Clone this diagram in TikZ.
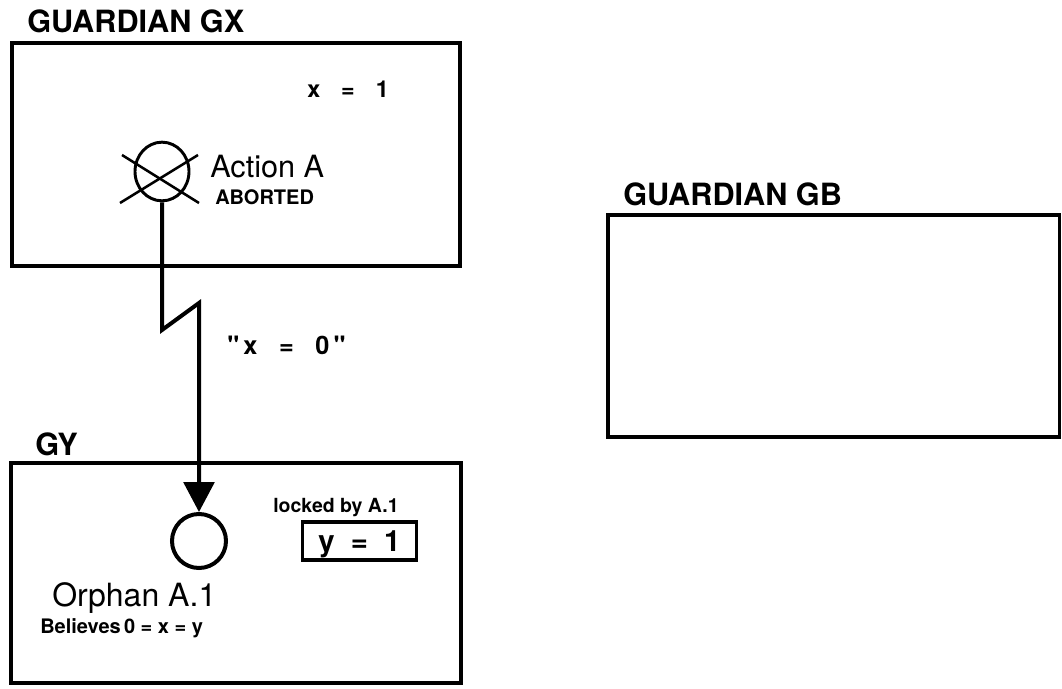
\documentclass[tikz,border=0pt]{standalone}
\usepackage{fontspec}
\setmainfont{TeX Gyre Heros}[Ligatures=TeXOff]
\usetikzlibrary{arrows.meta}
\usetikzlibrary{positioning}
\usetikzlibrary{shapes.geometric}
\tikzstyle{guardbox} = [draw, line width=2.6pt, inner sep=0pt]
\tikzstyle{boxtitle} = [anchor=base west, inner sep=0pt, font=\fontsize{23pt}{23pt}\selectfont\bfseries]
\tikzstyle{plainlabel} = [anchor=base west, inner sep=0pt]
\tikzstyle{msgline} = [line width=3pt, line join=miter]
\tikzstyle{crossline} = [line width=1.9pt]

\begin{document}
\begin{tikzpicture}[x=0.75pt, y=-0.75pt]
\useasboundingbox (0,0) rectangle (1062,688);
% guardians
\node[guardbox, minimum width=336pt, minimum height=167.25pt] (gx) at (236,154.5) {};
\node[guardbox, minimum width=338.6pt, minimum height=166.5pt] (gb) at (833.75,326) {};
\node[guardbox, minimum width=337.5pt, minimum height=165pt] (gy) at (236,573) {};
\node[boxtitle] (gxtitle) at (27,33) {GUARDIAN GX};
\node[boxtitle] (gbtitle) at (623,205) {GUARDIAN GB};
\node[boxtitle] (gytitle) at (35,455) {GY};
% inside GX
\node[plainlabel, font=\fontsize{17.5pt}{17.5pt}\selectfont\bfseries] (xval) at (307,98) {x\hspace{0.9em}=\hspace{0.9em}1};
\node[draw, ellipse, line width=2.2pt, inner sep=0pt, minimum width=40.5pt, minimum height=44pt] (acta) at (162,171.5) {};
\draw[crossline] (122,155) -- (199,203);
\draw[crossline] (120,203) -- (198,155);
\node[plainlabel, font=\fontsize{23pt}{23pt}\selectfont] (actlabel) at (210,177) {Action A};
\node[plainlabel, font=\fontsize{15pt}{15pt}\selectfont\bfseries] (abort) at (215,204) {ABORTED};
% message
\coordinate (bend1) at (162,330);
\coordinate (bend2) at (199,303);
\node[plainlabel, font=\fontsize{19pt}{19pt}\selectfont\bfseries] (msg) at (227,354) {"\,x\hspace{0.85em}=\hspace{0.85em}0\,"};
% inside GY
\node[draw, circle, line width=3pt, inner sep=0pt, minimum size=40.5pt] (orph) at (199,541) {};
\draw[msgline, -{Triangle[length=22.5pt, width=23pt]}] (acta.south) -- (bend1) -- (bend2) -- (orph.north);
\node[plainlabel, font=\fontsize{14.6pt}{14.6pt}\selectfont\bfseries] (lockd) at (273,512) {locked by A.1};
\node[draw, line width=2.4pt, inner sep=0pt, minimum width=86pt, minimum height=28.5pt, text depth=0pt, font=\fontsize{22pt}{22pt}\selectfont\bfseries] (yval) at (359.5,541) {y\hspace{0.55em}=\hspace{0.55em}1};
\node[plainlabel, font=\fontsize{24pt}{24pt}\selectfont] (orphlabel) at (52,606) {Orphan A.1};
\node[plainlabel, font=\fontsize{15pt}{15pt}\selectfont\bfseries] (belief) at (40,633) {Believes\,0 = x = y};
\end{tikzpicture}
\end{document}
